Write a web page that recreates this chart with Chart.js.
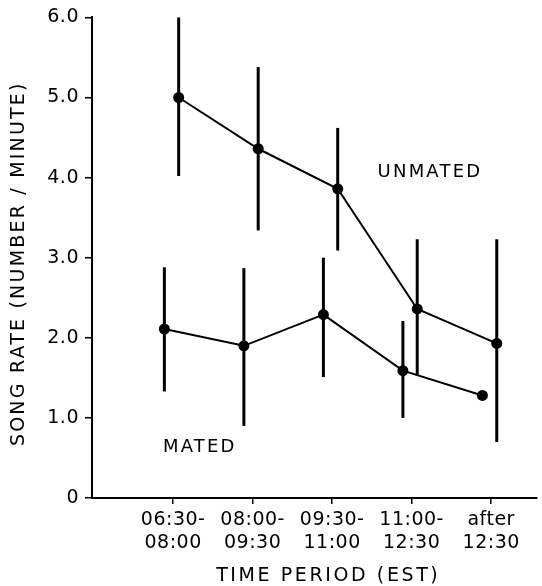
<!DOCTYPE html>
<html>
<head>
<meta charset="utf-8">
<script src="https://cdn.jsdelivr.net/npm/chart.js@4"></script>
<style>
  body { margin: 0; background: #fff; }
</style>
</head>
<body>
<canvas id="songChart" width="542" height="586"></canvas>
<script>
const periods = [['06:30-', '08:00'], ['08:00-', '09:30'], ['09:30-', '11:00'], ['11:00-', '12:30'], ['after', '12:30']];

const unmatedMean = [5.0, 4.36, 3.86, 2.36, 1.93];
const unmatedLow = [4.02, 3.34, 3.09, 1.53, 0.70];
const unmatedHigh = [6.0, 5.38, 4.62, 3.23, 3.23];

const matedMean = [2.11, 1.90, 2.29, 1.59, 1.28];
const matedLow = [1.33, 0.90, 1.51, 1.00, null];
const matedHigh = [2.88, 2.87, 3.00, 2.21, null];

// the two series are drawn a little apart so the bars don't overlap
const UNMATED_SHIFT = 0.07;
const MATED_SHIFT = -0.11;

const FONT = 'DejaVu Sans';

const toPoints = (vals, shift) => vals.map((v, i) => ({x: i + shift, y: v}));

// the scanned lettering is quite widely spaced
const spacingPlugin = {
  id: 'spacing',
  beforeUpdate: (chart) => { chart.ctx.letterSpacing = '0.5px'; },
  beforeDraw: (chart) => { chart.ctx.letterSpacing = '0.5px'; }
};

const errorBars = {
  id: 'errorBars',
  afterDatasetsDraw: (chart) => {
    const {ctx, scales: {x, y}} = chart;
    const sets = [
      {low: unmatedLow, high: unmatedHigh, shift: UNMATED_SHIFT},
      {low: matedLow, high: matedHigh, shift: MATED_SHIFT}
    ];
    ctx.save();
    ctx.strokeStyle = '#000';
    ctx.lineWidth = 3;
    sets.forEach(s => {
      s.low.forEach((lo, i) => {
        if (lo == null) return;
        const px = x.getPixelForValue(i + s.shift);
        ctx.beginPath();
        ctx.moveTo(px, y.getPixelForValue(lo));
        ctx.lineTo(px, y.getPixelForValue(s.high[i]));
        ctx.stroke();
      });
    });
    ctx.restore();
  }
};

// series names and axis titles, drawn by hand to get the wide letter spacing
const labelsPlugin = {
  id: 'labelsPlugin',
  afterDraw: (chart) => {
    const {ctx, chartArea, scales: {x, y}} = chart;
    ctx.save();
    ctx.fillStyle = '#000';
    ctx.font = '18px "' + FONT + '"';
    ctx.textAlign = 'center';
    ctx.textBaseline = 'middle';
    ctx.letterSpacing = '2.2px';
    ctx.fillText('UNMATED', x.getPixelForValue(3.23), y.getPixelForValue(4.07));
    ctx.fillText('MATED', x.getPixelForValue(0.335), y.getPixelForValue(0.63));

    ctx.font = '19px "' + FONT + '"';
    ctx.letterSpacing = '2.6px';
    ctx.fillText('TIME PERIOD (EST)', (chartArea.left + chartArea.right) / 2 + 14, 576);

    ctx.letterSpacing = '2.2px';
    ctx.translate(19, (chartArea.top + chartArea.bottom) / 2 + 6);
    ctx.rotate(-Math.PI / 2);
    ctx.fillText('SONG RATE (NUMBER / MINUTE)', 0, 0);
    ctx.restore();
  }
};

const ctx = document.getElementById('songChart').getContext('2d');

new Chart(ctx, {
  type: 'scatter',
  data: {
    datasets: [
      {
        label: 'Unmated',
        data: toPoints(unmatedMean, UNMATED_SHIFT),
        showLine: true,
        borderColor: '#000',
        borderWidth: 2,
        backgroundColor: '#000',
        pointRadius: 5.5,
        pointBorderWidth: 0
      },
      {
        label: 'Mated',
        data: toPoints(matedMean, MATED_SHIFT),
        showLine: true,
        borderColor: '#000',
        borderWidth: 2,
        backgroundColor: '#000',
        pointRadius: 5.5,
        pointBorderWidth: 0
      }
    ]
  },
  options: {
    responsive: false,
    animation: false,
    layout: {
      padding: {top: 15, right: 0, left: 0, bottom: 0}
    },
    plugins: {
      legend: {display: false},
      tooltip: {enabled: false}
    },
    scales: {
      x: {
        type: 'linear',
        min: -1.02,
        max: 4.57,
        afterBuildTicks: (scale) => {
          scale.ticks = periods.map((p, i) => ({value: i}));
        },
        afterFit: (scale) => { scale.height = 88; },
        ticks: {
          color: '#000',
          padding: 5,
          maxRotation: 0,
          font: {family: FONT, size: 19, lineHeight: 1.2},
          callback: (value) => periods[value]
        },
        grid: {
          drawOnChartArea: false,
          drawTicks: true,
          tickLength: 6,
          color: '#000',
          lineWidth: 1.5
        },
        border: {color: '#000', width: 2}
      },
      y: {
        min: 0,
        max: 6,
        afterFit: (scale) => { scale.width = 92; },
        ticks: {
          stepSize: 1,
          color: '#000',
          padding: 6,
          font: {family: FONT, size: 19},
          callback: (value) => value === 0 ? '0' : value.toFixed(1)
        },
        grid: {
          drawOnChartArea: false,
          drawTicks: true,
          tickLength: 7,
          color: '#000',
          lineWidth: 1.5
        },
        border: {color: '#000', width: 2}
      }
    }
  },
  plugins: [spacingPlugin, errorBars, labelsPlugin]
});
</script>
</body>
</html>
